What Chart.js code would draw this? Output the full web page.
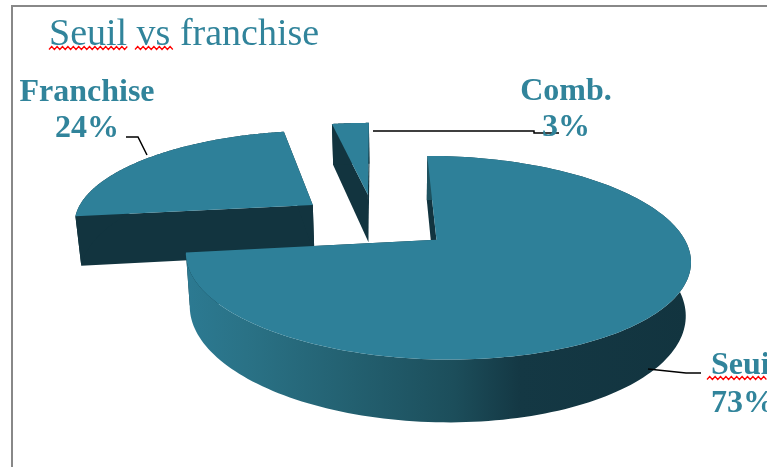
<!DOCTYPE html>
<html>
<head>
<meta charset="utf-8">
<style>html,body{margin:0;padding:0;background:#fff;overflow:hidden}#wrap{width:767px;height:467px}</style>
<script src="https://cdn.jsdelivr.net/npm/chart.js@4"></script>
</head>
<body>
<div id="wrap"><canvas id="c" width="767" height="467"></canvas></div>
<script>
const categories = ['Seuil', 'Franchise', 'Comb.'];
const values = [73, 24, 3];
const titleText = 'Seuil vs franchise';
const topColor = '#2E8099';
const cutColor = '#12343F';
const wallStops = [[0, '#2C7A92'], [0.12, '#2A7286'], [0.33, '#236070'], [0.53, '#1C4E5B'], [0.66, '#143844'], [1, '#12343F']];
const labelSpots = [
  {x: 711, y1: 374, y2: 412, align: 'left'},
  {x: 87, y1: 101, y2: 137, align: 'center'},
  {x: 566, y1: 100, y2: 136, align: 'center'}
];
const leaders = [
  [[648, 369], [686, 373], [701, 373]],
  [[126, 137], [138, 137], [147, 155]],
  [[373, 131], [534, 131], [534, 133], [559, 133]]
];
const squiggles = [[49, 128, 46.5], [135, 174, 46.5], [707, 767, 376.5]];

// Oblique perspective used to lay the pie's arcs on the tilted plane
const persp = {k: 0.17, a: 54.6, b: 220.9, x0: 375, rx: 240, offsetX: 1.1, depth: 50, lowScale: 0.982, lowCx: 400};
function project(u, v, z) {
  const w = 1 - persp.k * v;
  let x = persp.x0 + persp.rx * u / w;
  if (z) x = persp.lowCx + (x - persp.lowCx) * persp.lowScale;
  return {x, y: (persp.a * v + persp.b + (z ? persp.depth : 0)) / w};
}
function arcGeom(arc) {
  const R = arc.outerRadius;
  const d = (arc.options.offset || 0) / R;
  const mid = (arc.startAngle + arc.endAngle) / 2;
  const cu = Math.cos(mid) * d * persp.offsetX, cv = Math.sin(mid) * d;
  const at = (t, z) => project(cu + Math.cos(t), cv + Math.sin(t), z);
  const apex = z => project(cu, cv, z);
  return {at, apex, s: arc.startAngle, e: arc.endAngle};
}
function poly(ctx, pts, fill) {
  ctx.beginPath();
  pts.forEach((p, i) => i ? ctx.lineTo(p.x, p.y) : ctx.moveTo(p.x, p.y));
  ctx.closePath();
  ctx.fillStyle = fill;
  ctx.fill();
}
const pie3d = {
  id: 'pie3d',
  beforeDatasetsDraw(chart) {
    const ctx = chart.ctx;
    const arcs = chart.getDatasetMeta(0).data;
    ctx.save();
    [2, 1, 0].forEach(i => {
      const arc = arcs[i], g = arcGeom(arc), N = 180;
      poly(ctx, [g.apex(0), g.at(g.s, 0), g.at(g.s, 1), g.apex(1)], cutColor);
      poly(ctx, [g.apex(0), g.at(g.e, 0), g.at(g.e, 1), g.apex(1)], cutColor);
      const rim = [], low = [];
      for (let n = 0; n <= N; n++) {
        const t = g.s + (g.e - g.s) * n / N;
        rim.push(g.at(t, 0));
        low.unshift(g.at(t, 1));
      }
      let wall = cutColor;
      if (i === 0) {
        wall = ctx.createLinearGradient(185, 0, 692, 0);
        wallStops.forEach(s => wall.addColorStop(s[0], s[1]));
      }
      poly(ctx, rim.concat(low), wall);
      poly(ctx, [g.apex(0)].concat(rim), arc.options.backgroundColor);
    });
    ctx.restore();
    return false;
  },
  afterDraw(chart) {
    const ctx = chart.ctx;
    ctx.save();
    ctx.strokeStyle = '#888888';
    ctx.lineWidth = 2;
    ctx.beginPath();
    ctx.moveTo(12, 467); ctx.lineTo(12, 6); ctx.lineTo(767, 6);
    ctx.stroke();
    ctx.strokeStyle = '#000';
    ctx.lineWidth = 1.5;
    leaders.forEach(l => {
      ctx.beginPath();
      l.forEach((p, i) => i ? ctx.lineTo(p[0], p[1]) : ctx.moveTo(p[0], p[1]));
      ctx.stroke();
    });
    ctx.fillStyle = '#31849B';
    ctx.font = 'bold 32px "Liberation Serif"';
    ctx.textBaseline = 'alphabetic';
    categories.forEach((c, i) => {
      const s = labelSpots[i];
      ctx.textAlign = s.align;
      ctx.fillText(c, s.x, s.y1);
      ctx.fillText(values[i] + '%', s.x, s.y2);
    });
    ctx.strokeStyle = '#FF0000';
    ctx.lineWidth = 1.3;
    squiggles.forEach(q => {
      ctx.beginPath();
      let up = false;
      for (let x = q[0]; x <= q[1]; x += 2.7) {
        const y = q[2] + (up ? 0 : 3);
        x === q[0] ? ctx.moveTo(x, y) : ctx.lineTo(x, y);
        up = !up;
      }
      ctx.stroke();
    });
    ctx.restore();
  }
};
new Chart(document.getElementById('c'), {
  type: 'pie',
  data: {
    labels: categories,
    datasets: [{data: values, backgroundColor: topColor, borderWidth: 0, offset: 30, radius: 100}]
  },
  options: {
    responsive: false,
    animation: false,
    events: [],
    layout: {padding: {left: 49}},
    plugins: {
      legend: {display: false},
      tooltip: {enabled: false},
      title: {
        display: true,
        text: titleText,
        align: 'start',
        color: '#31849B',
        font: {family: '"Liberation Serif"', size: 38, weight: 'normal'},
        padding: {top: 12, bottom: 10}
      }
    }
  },
  plugins: [pie3d]
});
</script>
</body>
</html>
